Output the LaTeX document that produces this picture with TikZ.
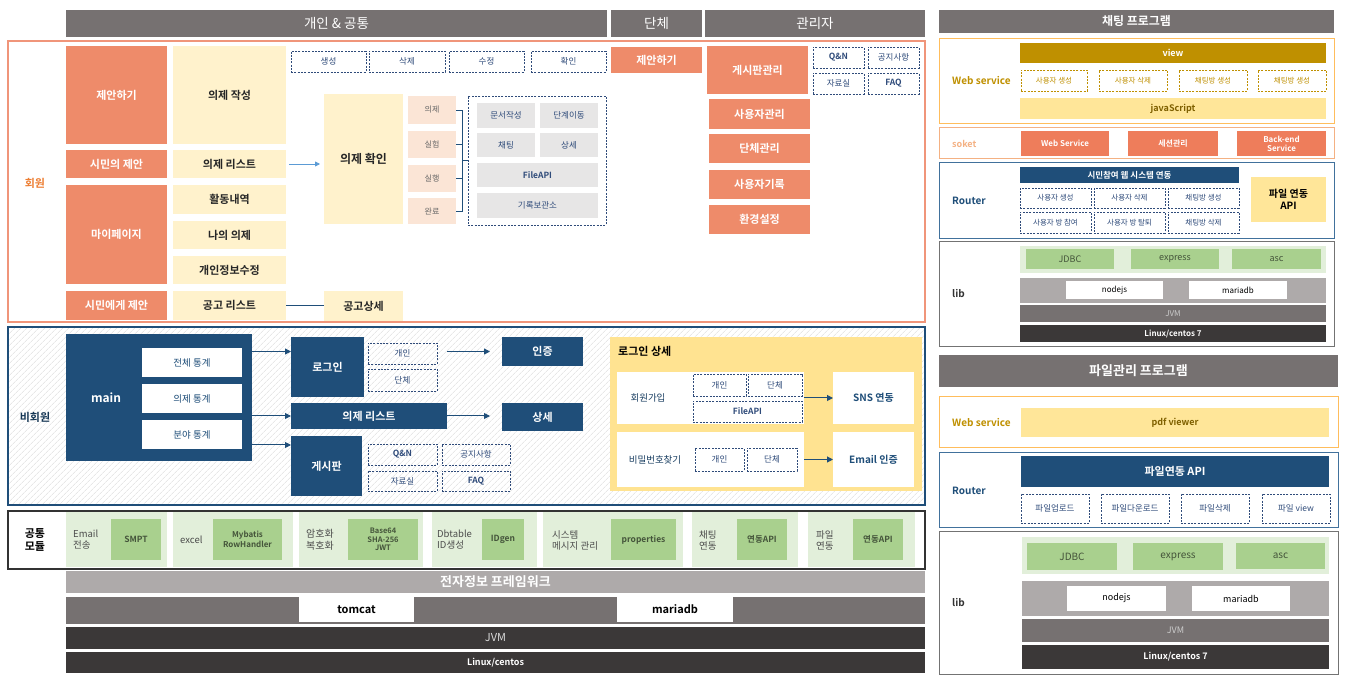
\documentclass[tikz,border=0pt]{standalone}
\usepackage{fontspec}
\setmainfont{Noto Sans CJK KR}[BoldFont={Noto Sans CJK KR Bold}]
\usetikzlibrary{arrows.meta,patterns.meta}
\definecolor{hgray}{HTML}{767171}
\definecolor{orng}{HTML}{EE8B6A}
\definecolor{orfr}{HTML}{F0957A}
\definecolor{ortx}{HTML}{ED7D31}
\definecolor{ylw}{HTML}{FFF2CC}
\definecolor{pnk}{HTML}{FBE5D6}
\definecolor{lgr}{HTML}{E7E6E6}
\definecolor{dbl}{HTML}{2F4B7A}
\definecolor{navy}{HTML}{1F4E79}
\definecolor{goldp}{HTML}{FFE391}
\definecolor{lgrn}{HTML}{E2EFDA}
\definecolor{grn}{HTML}{A9D08E}
\definecolor{gold}{HTML}{BF9000}
\definecolor{gtx}{HTML}{7F6000}
\definecolor{ylw2}{HTML}{FFE699}
\definecolor{sok}{HTML}{EE7D5B}
\definecolor{sokfr}{HTML}{F4B183}
\definecolor{steel}{HTML}{41719C}
\definecolor{mgray}{HTML}{AEAAAA}
\definecolor{dgray}{HTML}{3B3838}
\definecolor{lblue}{HTML}{5B9BD5}
\definecolor{grtx}{HTML}{44543A}
\newcommand\fsz[2]{\fontsize{#1}{#2}\selectfont}
\newcommand\bxn[7]{\node[cell,#2,minimum width={(#5-#3)*1pt},minimum height={(#6-#4)*1pt}] (#1) at ({(#3+#5)/2},{(#4+#6)/2}) {#7};}
\tikzset{
 cell/.style={inner sep=0pt,outer sep=0pt,align=center},
 hdr/.style={fill=hgray,text=white,font=\fsz{13.5}{16}},
 ob/.style={fill=orng,text=white,font=\bfseries\fsz{11}{13}},
 yb/.style={fill=ylw,text=black!85,font=\bfseries\fsz{11}{13}},
 pk/.style={fill=pnk,text=black!60,font=\fsz{8}{10}},
 gb/.style={fill=lgr,text=dbl,font=\fsz{8.5}{10}},
 dsh/.style={draw=dbl,dash pattern=on 2pt off 1.3pt,line width=0.8pt,text=dbl,font=\fsz{8.5}{10}},
 gdsh/.style={draw=gold,dash pattern=on 2pt off 1.3pt,line width=0.8pt,text=gold,font=\fsz{7.5}{9}},
 rdsh/.style={dsh,font=\fsz{7.5}{9}},
 nb/.style={fill=navy,text=white,font=\bfseries\fsz{11}{13}},
 wb/.style={fill=white,text=navy,font=\fsz{9.5}{11}},
 wbb/.style={fill=white,text=navy,font=\bfseries\fsz{10}{12}},
 lgc/.style={fill=lgrn},
 gnb/.style={fill=grn,text=grtx,font=\bfseries\fsz{8.5}{9.5}},
 clab/.style={anchor=west,inner sep=0pt,align=left,text=black!70,font=\fsz{9.5}{11}},
 sideb/.style={anchor=west,inner sep=0pt,font=\bfseries\fsz{10}{12}},
 navyln/.style={draw=navy,line width=1pt},
 navyarr/.style={navyln,-{Triangle[length=6pt,width=6pt]}},
 lblarr/.style={draw=lblue,line width=0.8pt,-{Triangle[length=5pt,width=5pt]}},
}
\begin{document}
\begin{tikzpicture}[x=1pt,y=-1pt]
\useasboundingbox (0,0) rectangle (1345,692);
\fill[white] (0,0) rectangle (1345,692);
% headers
\bxn{h1}{hdr}{66}{10}{607}{37}{개인 \& 공통}
\bxn{h2}{hdr}{611}{10}{702}{37}{단체}
\bxn{h3}{hdr}{705}{10}{925}{37}{관리자}
% member frame
\draw[orfr,line width=1.3pt] (8,41) rectangle (925,322);
\node[cell,text=ortx,font=\bfseries\fsz{11}{13}] (lbm) at (35,183) {회원};
\bxn{o1}{ob}{66}{46}{167}{144}{제안하기}
\bxn{o2}{ob}{66}{150}{167}{178}{시민의 제안}
\bxn{o3}{ob}{66}{185}{167}{284}{마이페이지}
\bxn{o4}{ob}{66}{291}{167}{320}{시민에게 제안}
\bxn{y1}{yb}{173}{46}{286}{144}{의제 작성}
\bxn{y2}{yb}{173}{150}{286}{178}{의제 리스트}
\bxn{y3}{yb}{173}{185}{286}{214}{활동내역}
\bxn{y4}{yb}{173}{221}{286}{249}{나의 의제}
\bxn{y5}{yb}{173}{256}{286}{284}{개인정보수정}
\bxn{y6}{yb}{173}{291}{286}{320}{공고 리스트}
\bxn{d1}{dsh}{291}{51}{366}{72}{생성}
\bxn{d2}{dsh}{369}{51}{445}{72}{삭제}
\bxn{d3}{dsh}{449}{51}{524}{72}{수정}
\bxn{d4}{dsh}{531}{51}{606}{72}{확인}
\bxn{confirm}{yb,font=\bfseries\fsz{12}{14}}{324}{94}{403}{224}{의제 확인}
\bxn{s1}{pk}{408}{96}{456}{124}{의제}
\bxn{s2}{pk}{408}{131}{456}{158}{실험}
\bxn{s3}{pk}{408}{165}{456}{192}{실행}
\bxn{s4}{pk}{408}{198}{456}{224}{완료}
\bxn{cont}{dsh}{468}{96}{606}{225}{}
\bxn{g1}{gb}{477}{103}{535}{128}{문서작성}
\bxn{g2}{gb}{540}{103}{598}{128}{단계이동}
\bxn{g3}{gb}{477}{133}{535}{157}{채팅}
\bxn{g4}{gb}{540}{133}{598}{157}{상세}
\bxn{g5}{gb,font=\bfseries\fsz{8.5}{10}}{477}{163}{598}{187}{FileAPI}
\bxn{g6}{gb}{477}{193}{598}{218}{기록보관소}
\bxn{notice}{yb}{324}{291}{403}{321}{공고상세}
\coordinate (bk) at (462,0);
\draw[navyln,line width=0.9pt] (s1.east) -- (s1.east -| bk) -- (s4.east -| bk) -- (s4.east);
\draw[navyln,line width=0.9pt] (s2.east) -- (s2.east -| bk);
\draw[navyln,line width=0.9pt] (s3.east) -- (s3.east -| bk);
\draw[navyln,line width=0.9pt] (bk |- cont.west) -- (cont.west);
\draw[lblarr,shorten <=3pt,shorten >=4pt] (y2.east) -- (y2.east -| confirm.west);
\draw[navyln] (y6.east) -- (y6.east -| notice.west);
% group
\bxn{o5}{ob}{611}{47}{702}{73}{제안하기}
% admin
\bxn{a1}{ob}{707}{46}{808}{94}{게시판관리}
\bxn{a2}{ob}{709}{99}{810}{129}{사용자관리}
\bxn{a3}{ob}{709}{134}{810}{163}{단체관리}
\bxn{a4}{ob}{709}{170}{810}{199}{사용자기록}
\bxn{a5}{ob}{709}{205}{810}{234}{환경설정}
\bxn{ad1}{dsh,font=\bfseries\fsz{8.5}{10}}{813}{47}{864}{68}{Q\&N}
\bxn{ad2}{dsh}{868}{47}{919}{68}{공지사항}
\bxn{ad3}{dsh}{813}{73}{864}{94}{자료실}
\bxn{ad4}{dsh,font=\bfseries\fsz{8.5}{10}}{868}{73}{919}{94}{FAQ}
% non-member frame
\fill[pattern={Lines[angle=45,distance=4pt,line width=0.5pt]},pattern color=black!14] (8,327) rectangle (925,505);
\draw[navy,line width=1.6pt] (8,327) rectangle (925,505);
\node[cell,text=navy!70!black,font=\bfseries\fsz{11}{13}] (lbn) at (35,417) {비회원};
\bxn{main}{fill=navy}{66}{334}{252}{461}{}
\node[cell,text=white,font=\bfseries\fsz{12}{14}] (mainlab) at (106,398) {main};
\bxn{w1}{wb}{142}{348}{242}{377}{전체 통계}
\bxn{w2}{wb}{142}{384}{242}{413}{의제 통계}
\bxn{w3}{wb}{142}{420}{242}{449}{분야 통계}
\bxn{login}{nb}{291}{337}{364}{397}{로그인}
\bxn{lg1}{dsh}{368}{343}{437}{364}{개인}
\bxn{lg2}{dsh}{368}{369}{437}{391}{단체}
\bxn{auth}{nb}{502}{337}{583}{366}{인증}
\bxn{alist}{nb}{291}{403}{447}{429}{의제 리스트}
\bxn{detail}{nb}{502}{403}{583}{431}{상세}
\bxn{board}{nb}{291}{436}{362}{496}{게시판}
\bxn{b1}{dsh,font=\bfseries\fsz{8.5}{10}}{368}{444}{437}{465}{Q\&N}
\bxn{b2}{dsh}{442}{444}{510}{465}{공지사항}
\bxn{b3}{dsh}{368}{471}{437}{491}{자료실}
\bxn{b4}{dsh,font=\bfseries\fsz{8.5}{10}}{442}{471}{510}{491}{FAQ}
\coordinate (bt) at (0,445);
\draw[navyarr] (main.east |- auth) -- (login.west |- auth);
\draw[navyarr] (main.east |- alist) -- (alist.west);
\draw[navyarr] (main.east |- bt) -- (board.west |- bt);
\draw[navyarr,shorten <=10pt,shorten >=12pt] (lg1.east |- auth) -- (auth.west);
\draw[navyarr,shorten >=12pt] (alist.east) -- (alist.east -| detail.west);
% login detail
\bxn{ld}{fill=goldp}{610}{337}{922}{491}{}
\node[anchor=west,inner sep=0pt,font=\bfseries\fsz{11}{13}] (ldt) at (618,351) {로그인 상세};
\bxn{j1}{fill=white}{617}{372}{804}{424}{}
\node[cell,text=navy!80!black,font=\fsz{9.5}{11}] (j1l) at (648,398) {회원가입};
\bxn{jd1}{dsh}{693}{374}{746}{396}{개인}
\bxn{jd2}{dsh}{748}{374}{802}{396}{단체}
\bxn{jd3}{dsh,font=\bfseries\fsz{8.5}{10}}{693}{401}{802}{422}{FileAPI}
\bxn{sns}{wbb}{833}{372}{914}{424}{SNS 연동}
\bxn{j2}{fill=white}{617}{432}{804}{487}{}
\node[cell,text=navy!80!black,font=\fsz{9.5}{11}] (j2l) at (655,460) {비밀번호찾기};
\bxn{jd4}{dsh}{695}{448}{744}{471}{개인}
\bxn{jd5}{dsh}{747}{448}{797}{471}{단체}
\bxn{email}{wbb}{833}{432}{914}{487}{Email 인증}
\draw[navyarr] (j1.east) -- (sns.west);
\draw[navyarr] (j2.east) -- (email.west);
% common modules
\draw[black!80,line width=1.6pt,fill=white] (8,511) rectangle (925,569);
\node[cell,font=\bfseries\fsz{11}{12.5}] (lbc) at (35,540) {공통\\모듈};
\bxn{c1}{lgc}{66}{512}{167}{567}{}
\bxn{c2}{lgc}{173}{512}{293}{567}{}
\bxn{c3}{lgc}{299}{512}{423}{567}{}
\bxn{c4}{lgc}{432}{512}{537}{567}{}
\bxn{c5}{lgc}{543}{512}{683}{567}{}
\bxn{c6}{lgc}{692}{512}{798}{567}{}
\bxn{c7}{lgc}{808}{512}{915}{567}{}
\node[clab] (c1l) at (73,540) {Email\\전송};
\node[clab] (c2l) at (180,540) {excel};
\node[clab,font=\fsz{10}{11.5}] (c3l) at (306,540) {암호화\\복호화};
\node[clab] (c4l) at (437,540) {Dbtable\\ID생성};
\node[clab] (c5l) at (552,540) {시스템\\메시지 관리};
\node[clab] (c6l) at (699,540) {채팅\\연동};
\node[clab] (c7l) at (816,540) {파일\\연동};
\bxn{m1}{gnb}{111}{519}{161}{560}{SMPT}
\bxn{m2}{gnb,font=\bfseries\fsz{8}{9.5}}{213}{519}{282}{560}{Mybatis\\RowHandler}
\bxn{m3}{gnb,font=\bfseries\fsz{7.5}{8.5}}{348}{519}{418}{560}{Base64\\SHA-256\\JWT}
\bxn{m4}{gnb}{482}{519}{524}{560}{IDgen}
\bxn{m5}{gnb}{611}{519}{676}{560}{properties}
\bxn{m6}{gnb}{737}{519}{787}{560}{연동API}
\bxn{m7}{gnb}{853}{519}{903}{560}{연동API}
% bottom stack
\bxn{fw}{fill=mgray,text=white,font=\bfseries\fsz{13}{15}}{66}{571}{925}{593}{전자정보 프레임워크}
\bxn{was}{fill=hgray}{66}{597}{925}{624}{}
\bxn{tomcat}{fill=white,font=\bfseries\fsz{11}{13}}{299}{597}{414}{622}{tomcat}
\bxn{mdb}{fill=white,font=\bfseries\fsz{11}{13}}{617}{597}{733}{622}{mariadb}
\bxn{jvm}{fill=dgray,text=black!15,font=\fsz{11}{13}}{66}{627}{925}{649}{JVM}
\bxn{lnx}{fill=dgray,text=white,font=\bfseries\fsz{9}{11}}{66}{652}{925}{673}{Linux/centos}
% chat program
\bxn{ch}{hdr,font=\bfseries\fsz{12}{14}}{939}{10}{1334}{33}{채팅 프로그램}
\draw[draw=ylw2!60!orange,line width=1pt] (939,39) rectangle (1334,124);
\node[sideb,text=gold] (cws) at (952,81) {Web service};
\bxn{view}{fill=gold,text=white,font=\bfseries\fsz{9}{11}}{1020}{43}{1326}{63}{view}
\bxn{cd1}{gdsh}{1021}{70}{1087}{91}{사용자 생성}
\bxn{cd2}{gdsh}{1099}{70}{1167}{91}{사용자 삭제}
\bxn{cd3}{gdsh}{1179}{70}{1247}{91}{채팅방 생성}
\bxn{cd4}{gdsh}{1258}{70}{1326}{91}{채팅방 생성}
\bxn{js}{fill=ylw2,text=gtx,font=\bfseries\fsz{9}{11}}{1020}{98}{1326}{119}{javaScript}
\draw[sokfr,line width=1pt] (939,128) rectangle (1334,159);
\node[sideb,text=sokfr,font=\bfseries\fsz{9}{11}] (csk) at (952,144) {soket};
\bxn{sk1}{fill=sok,text=white,font=\bfseries\fsz{8}{9}}{1021}{131}{1109}{156}{Web Service}
\bxn{sk2}{fill=sok,text=white,font=\bfseries\fsz{8}{9}}{1128}{131}{1218}{156}{세션관리}
\bxn{sk3}{fill=sok,text=white,font=\bfseries\fsz{8}{8.8}}{1237}{131}{1326}{156}{Back-end\\Service}
\draw[steel,line width=1pt] (939,163) rectangle (1334,239);
\node[sideb,text=navy] (crt) at (952,201) {Router};
\bxn{rt}{fill=navy,text=white,font=\bfseries\fsz{8.5}{10}}{1020}{167}{1239}{183}{시민참여 웹 시스템 연동}
\bxn{rd1}{rdsh}{1020}{188}{1091}{208}{사용자 생성}
\bxn{rd2}{rdsh}{1094}{188}{1165}{208}{사용자 삭제}
\bxn{rd3}{rdsh}{1168}{188}{1239}{208}{채팅방 생성}
\bxn{rd4}{rdsh}{1020}{212}{1091}{233}{사용자 방 참여}
\bxn{rd5}{rdsh}{1094}{212}{1165}{233}{사용자 방 탈퇴}
\bxn{rd6}{rdsh}{1168}{212}{1239}{233}{채팅방 삭제}
\bxn{fapi}{fill=ylw2,font=\bfseries\fsz{10}{11.5}}{1251}{177}{1326}{222}{파일 연동\\API}
\draw[black!55,line width=1pt] (939,242) rectangle (1334,347);
\node[sideb,text=black!80] (clb) at (952,294) {lib};
\bxn{lg}{lgc}{1020}{246}{1326}{273}{}
\bxn{l1}{fill=grn,text=grtx,font=\fsz{9}{11}}{1026}{249}{1114}{269}{JDBC}
\bxn{l2}{fill=grn,text=grtx,font=\fsz{9}{11}}{1131}{249}{1219}{269}{express}
\bxn{l3}{fill=grn,text=grtx,font=\fsz{9}{11}}{1232}{249}{1321}{269}{asc}
\bxn{gbd}{fill=mgray}{1020}{278}{1326}{303}{}
\bxn{n1}{fill=white,font=\fsz{8}{10}}{1066}{281}{1163}{299}{nodejs}
\bxn{n2}{fill=white,font=\fsz{8}{10}}{1189}{281}{1287}{299}{mariadb}
\bxn{jv}{fill=hgray,text=black!20,font=\fsz{8}{10}}{1020}{305}{1326}{322}{JVM}
\bxn{lx}{fill=dgray,text=white,font=\bfseries\fsz{8}{10}}{1020}{325}{1326}{342}{Linux/centos 7}
% file program
\bxn{fh}{hdr,font=\bfseries\fsz{13}{15}}{939}{355}{1338}{387}{파일관리 프로그램}
\draw[draw=ylw2!60!orange,line width=1pt] (939,397) rectangle (1338,448);
\node[sideb,text=gold] (fws) at (952,423) {Web service};
\bxn{pdf}{fill=ylw2,text=gtx,font=\bfseries\fsz{9}{11}}{1021}{408}{1329}{437}{pdf viewer}
\draw[steel,line width=1pt] (939,453) rectangle (1338,528);
\node[sideb,text=navy] (frt) at (952,491) {Router};
\bxn{fapi2}{fill=navy,text=white,font=\bfseries\fsz{11}{13}}{1021}{456}{1329}{487}{파일연동 API}
\bxn{fd1}{dsh}{1021}{494}{1089}{523}{파일업로드}
\bxn{fd2}{dsh}{1101}{494}{1169}{523}{파일다운로드}
\bxn{fd3}{dsh}{1181}{494}{1249}{523}{파일삭제}
\bxn{fd4}{dsh}{1262}{494}{1330}{523}{파일 view}
\draw[black!55,line width=1pt] (939,532) rectangle (1338,674);
\node[sideb,text=black!80] (flb) at (952,603) {lib};
\bxn{flg}{lgc}{1022}{537}{1329}{574}{}
\bxn{fl1}{fill=grn,text=grtx,font=\fsz{10}{12}}{1027}{543}{1117}{570}{JDBC}
\bxn{fl2}{fill=grn,text=grtx,font=\fsz{10}{12}}{1133}{543}{1223}{570}{express}
\bxn{fl3}{fill=grn,text=grtx,font=\fsz{10}{12}}{1236}{543}{1325}{569}{asc}
\bxn{fgb}{fill=mgray}{1022}{581}{1329}{616}{}
\bxn{fn1}{fill=white,font=\fsz{9}{11}}{1067}{586}{1166}{611}{nodejs}
\bxn{fn2}{fill=white,font=\fsz{9}{11}}{1192}{586}{1290}{611}{mariadb}
\bxn{fjv}{fill=hgray,text=black!20,font=\fsz{9}{11}}{1022}{619}{1329}{642}{JVM}
\bxn{flx}{fill=dgray,text=white,font=\bfseries\fsz{9}{11}}{1022}{645}{1329}{669}{Linux/centos 7}
\end{tikzpicture}
\end{document}
